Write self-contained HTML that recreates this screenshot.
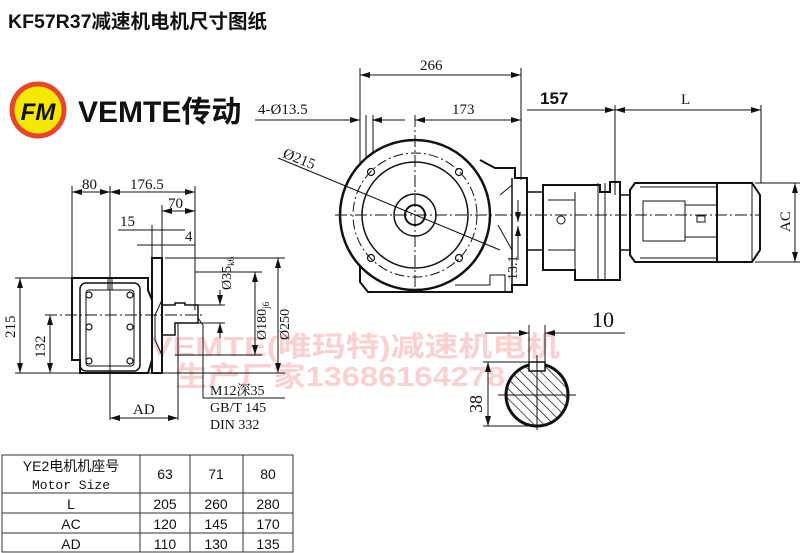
<!DOCTYPE html>
<html><head><meta charset="utf-8"><style>
html,body{margin:0;padding:0;background:#fff;}
svg{display:block;}
.t{font-family:"Liberation Serif","Noto Serif CJK SC",serif;fill:#111;}
.s{font-family:"Liberation Sans","Noto Sans CJK SC",sans-serif;fill:#111;}
</style></head><body>
<svg width="800" height="553" viewBox="0 0 800 553" xmlns="http://www.w3.org/2000/svg">
<defs>
<marker id="a" viewBox="0 0 10 6" refX="10" refY="3" markerWidth="10" markerHeight="6" orient="auto-start-reverse" markerUnits="userSpaceOnUse"><path d="M0,0L10,3L0,6z" fill="#111"/></marker>
<pattern id="h" width="7" height="7" patternUnits="userSpaceOnUse" patternTransform="rotate(-45)"><line x1="0" y1="0" x2="0" y2="7" stroke="#111" stroke-width="1.4"/></pattern>
</defs>
<rect width="800" height="553" fill="#fff"/>
<!-- watermark -->
<text x="150" y="356" class="s" font-size="28" font-weight="bold" textLength="410" lengthAdjust="spacingAndGlyphs" style="fill:#fbd0d0">VEMTE(唯玛特)减速机电机</text>
<text x="175" y="386" class="s" font-size="28" font-weight="bold" textLength="330" lengthAdjust="spacingAndGlyphs" style="fill:#fbd0d0">生产厂家13686164278</text>
<!-- title -->
<text x="8" y="28" class="s" font-size="19.5" font-weight="bold">KF57R37减速机电机尺寸图纸</text>
<!-- logo -->
<circle cx="38" cy="110" r="26" fill="#f5e800" stroke="#e8452c" stroke-width="5"/>
<text x="38" y="120" text-anchor="middle" class="s" font-size="24" font-weight="bold" font-style="italic">FM</text>
<text x="78" y="122" class="s" font-size="30" font-weight="bold">VEMTE传动</text>

<g stroke="#111" fill="none" stroke-width="1">
<!-- LEFT VIEW -->
<line x1="72" y1="186" x2="72" y2="278"/><line x1="110" y1="186" x2="110" y2="420"/><line x1="195" y1="186" x2="195" y2="310"/>
<line x1="72" y1="192" x2="110" y2="192" marker-start="url(#a)" marker-end="url(#a)"/>
<line x1="110" y1="192" x2="195" y2="192" marker-start="url(#a)" marker-end="url(#a)"/>
<line x1="162" y1="205" x2="162" y2="258"/>
<line x1="162" y1="211" x2="195" y2="211" marker-start="url(#a)" marker-end="url(#a)"/>
<line x1="118" y1="230" x2="185" y2="230"/><line x1="152" y1="225" x2="152" y2="260"/>
<line x1="137" y1="245" x2="195" y2="245"/>
<path d="M72,278H148V290L152,300V360L148,373H80V360H72Z" stroke-width="2"/>
<rect x="80" y="283" width="60" height="88" rx="6" stroke-width="1.5"/>
<rect x="86" y="290" width="48" height="76" rx="3"/>
<line x1="108" y1="278" x2="108" y2="290"/><line x1="112" y1="278" x2="112" y2="290"/>
<g stroke-width="1.2"><circle cx="89" cy="295" r="3"/><circle cx="130" cy="295" r="3"/><circle cx="89" cy="327" r="3"/><circle cx="130" cy="327" r="3"/><circle cx="89" cy="361" r="3"/><circle cx="130" cy="361" r="3"/></g>
<path d="M152,258H162V373H152Z" stroke-width="2"/>
<path d="M162,300L155,315V340L162,355" />
<path d="M162,305H175V303H185V305H198V323H175V335H162" stroke-width="1.5"/>
<line x1="45" y1="315" x2="205" y2="315" stroke-dasharray="12,3,2,3"/>
<line x1="165" y1="258" x2="285" y2="258"/><line x1="80" y1="373" x2="285" y2="373"/>
<line x1="195" y1="272" x2="262" y2="272"/><line x1="175" y1="355" x2="262" y2="355"/>
<line x1="198" y1="305" x2="225" y2="305"/><line x1="198" y1="323" x2="225" y2="323"/>
<line x1="220" y1="290" x2="220" y2="305" marker-end="url(#a)"/><line x1="220" y1="338" x2="220" y2="323" marker-end="url(#a)"/>
<line x1="255" y1="272" x2="255" y2="355" marker-start="url(#a)" marker-end="url(#a)"/>
<line x1="278" y1="258" x2="278" y2="373" marker-start="url(#a)" marker-end="url(#a)"/>
<line x1="15" y1="278" x2="72" y2="278"/><line x1="15" y1="373" x2="80" y2="373"/>
<line x1="20" y1="278" x2="20" y2="373" marker-start="url(#a)" marker-end="url(#a)"/>
<line x1="50" y1="315" x2="50" y2="373" marker-start="url(#a)" marker-end="url(#a)"/>
<line x1="178" y1="323" x2="178" y2="420"/>
<line x1="110" y1="418" x2="178" y2="418" marker-start="url(#a)" marker-end="url(#a)"/>
<path d="M198,318L203,325V398H285"/>

<!-- MAIN VIEW -->
<line x1="360" y1="68" x2="360" y2="180"/><line x1="521" y1="68" x2="521" y2="180"/>
<line x1="360" y1="75" x2="521" y2="75" marker-start="url(#a)" marker-end="url(#a)"/>
<line x1="415" y1="120" x2="521" y2="120" marker-start="url(#a)" marker-end="url(#a)"/>
<line x1="255" y1="120" x2="360" y2="120" marker-end="url(#a)"/>
<line x1="372" y1="120" x2="405" y2="120" marker-start="url(#a)"/>
<line x1="366" y1="115" x2="366" y2="170"/><line x1="373" y1="115" x2="373" y2="170"/>
<path d="M360,200V282L368,292H512V285H527V178H515V168H495L480,160" stroke-width="2"/>
<path d="M500,195L512,185M498,225L512,250M455,285H490V275H505V292"/>
<line x1="512" y1="178" x2="512" y2="292" stroke-width="1.5"/>
<circle cx="415" cy="215" r="75" stroke-width="2.5" fill="#fff"/>
<circle cx="415" cy="215" r="62" stroke-dasharray="10,3,2,3"/>
<circle cx="415" cy="215" r="53" stroke-width="1.5"/>
<circle cx="415" cy="215" r="21" stroke-width="1.5"/>
<circle cx="415" cy="215" r="10" stroke-width="2"/>
<g stroke-width="1.2"><circle cx="371" cy="172" r="3.5"/><circle cx="459" cy="172" r="3.5"/><circle cx="371" cy="258" r="3.5"/><circle cx="459" cy="258" r="3.5"/></g>
<line x1="335" y1="215" x2="760" y2="215" stroke-dasharray="12,3,2,3"/>
<line x1="415" y1="115" x2="415" y2="290" stroke-dasharray="12,3,2,3"/>
<line x1="278" y1="158" x2="500" y2="250"/>
<line x1="518" y1="200" x2="518" y2="222" marker-end="url(#a)"/><line x1="518" y1="260" x2="518" y2="226" marker-end="url(#a)"/>
<path d="M527,192H543V250H527" stroke-width="1.5"/>
<path d="M543,185H600V192H610V182H620V280H575V270H543Z" stroke-width="2"/>
<line x1="575" y1="192" x2="575" y2="270"/><line x1="598" y1="183" x2="598" y2="280"/><line x1="605" y1="183" x2="605" y2="280"/>
<line x1="548" y1="200" x2="575" y2="200"/><line x1="548" y1="250" x2="575" y2="250"/>
<circle cx="561" cy="220" r="4"/>
<path d="M620,195H630V250H620" stroke-width="1.5"/>
<path d="M635,183H717V262H635L630,255V190Z" stroke-width="2"/>
<line x1="640" y1="187" x2="717" y2="187"/><line x1="640" y1="258" x2="717" y2="258"/>
<rect x="643" y="201" width="42" height="40"/>
<rect x="685" y="205" width="32" height="32"/>
<rect x="697" y="216" width="8" height="6"/>
<path d="M717,183H752L760,195V250L752,262H717" stroke-width="2"/>
<line x1="752" y1="183" x2="752" y2="262"/>
<line x1="615" y1="105" x2="615" y2="195"/><line x1="761" y1="105" x2="761" y2="183"/>
<line x1="527" y1="110" x2="615" y2="110" marker-end="url(#a)"/>
<line x1="615" y1="110" x2="761" y2="110" marker-start="url(#a)" marker-end="url(#a)"/>
<line x1="755" y1="183" x2="800" y2="183"/><line x1="755" y1="262" x2="800" y2="262"/>
<line x1="795" y1="183" x2="795" y2="262" marker-start="url(#a)" marker-end="url(#a)"/>

<circle cx="537" cy="395" r="31" fill="url(#h)" stroke-width="3"/>
<rect x="529" y="362" width="16" height="9" fill="#fff" stroke-width="1.5"/>
<line x1="529" y1="325" x2="529" y2="362"/><line x1="545" y1="325" x2="545" y2="362"/>
<line x1="485" y1="333" x2="529" y2="333" marker-end="url(#a)"/>
<line x1="545" y1="333" x2="625" y2="333" marker-start="url(#a)"/>
<line x1="498" y1="395" x2="576" y2="395"/><line x1="537" y1="355" x2="537" y2="430"/>
<line x1="483" y1="362" x2="530" y2="362"/><line x1="483" y1="426" x2="537" y2="426"/>
<line x1="488" y1="362" x2="488" y2="426" marker-start="url(#a)" marker-end="url(#a)"/>
</g>

<g class="t" font-size="15">
<text x="82" y="189">80</text><text x="130" y="189">176.5</text>
<text x="168" y="208">70</text><text x="120" y="226">15</text><text x="185" y="241">4</text>
<text transform="translate(231,290) rotate(-90)" font-size="14">Ø35<tspan font-size="9" dy="3">k6</tspan></text>
<text transform="translate(266,340) rotate(-90)" font-size="14">Ø180<tspan font-size="9" dy="3">j6</tspan></text>
<text transform="translate(289,340) rotate(-90)" font-size="14">Ø250</text>
<text transform="translate(15,338) rotate(-90)">215</text>
<text transform="translate(45,358) rotate(-90)">132</text>
<text x="133" y="414">AD</text>
<text x="210" y="395" font-size="14">M12深35</text>
<text x="210" y="412" font-size="14">GB/T 145</text>
<text x="210" y="429" font-size="14">DIN 332</text>
<text x="420" y="70">266</text>
<text x="452" y="114">173</text>
<text x="258" y="114">4-Ø13.5</text>
<text transform="translate(282,157) rotate(22)">Ø215</text>
<text transform="translate(517,280) rotate(-90)" font-size="14">13.1</text>
<text x="681" y="104">L</text>
<text transform="translate(790,232) rotate(-90)">AC</text>
<text x="592" y="327" font-size="22">10</text>
<text transform="translate(482,413) rotate(-90)" font-size="18">38</text>
</g>
<text x="540" y="104" class="s" font-size="17" font-weight="bold">157</text>

<g stroke="#333" stroke-width="1" fill="none">
<rect x="2" y="455" width="291" height="97"/>
<line x1="140" y1="455" x2="140" y2="552"/><line x1="190" y1="455" x2="190" y2="552"/><line x1="243" y1="455" x2="243" y2="552"/>
<line x1="2" y1="493" x2="293" y2="493"/><line x1="2" y1="513" x2="293" y2="513"/><line x1="2" y1="533" x2="293" y2="533"/>
</g>
<g class="s" font-size="14" text-anchor="middle">
<text x="71" y="471">YE2电机机座号</text>
<text x="71" y="489" font-family="Liberation Mono" font-size="13">Motor Size</text>
<text x="165" y="479">63</text><text x="216" y="479">71</text><text x="268" y="479">80</text>
<text x="71" y="509">L</text><text x="165" y="509">205</text><text x="216" y="509">260</text><text x="268" y="509">280</text>
<text x="71" y="529">AC</text><text x="165" y="529">120</text><text x="216" y="529">145</text><text x="268" y="529">170</text>
<text x="71" y="549">AD</text><text x="165" y="549">110</text><text x="216" y="549">130</text><text x="268" y="549">135</text>
</g>
</svg>
</body></html>
